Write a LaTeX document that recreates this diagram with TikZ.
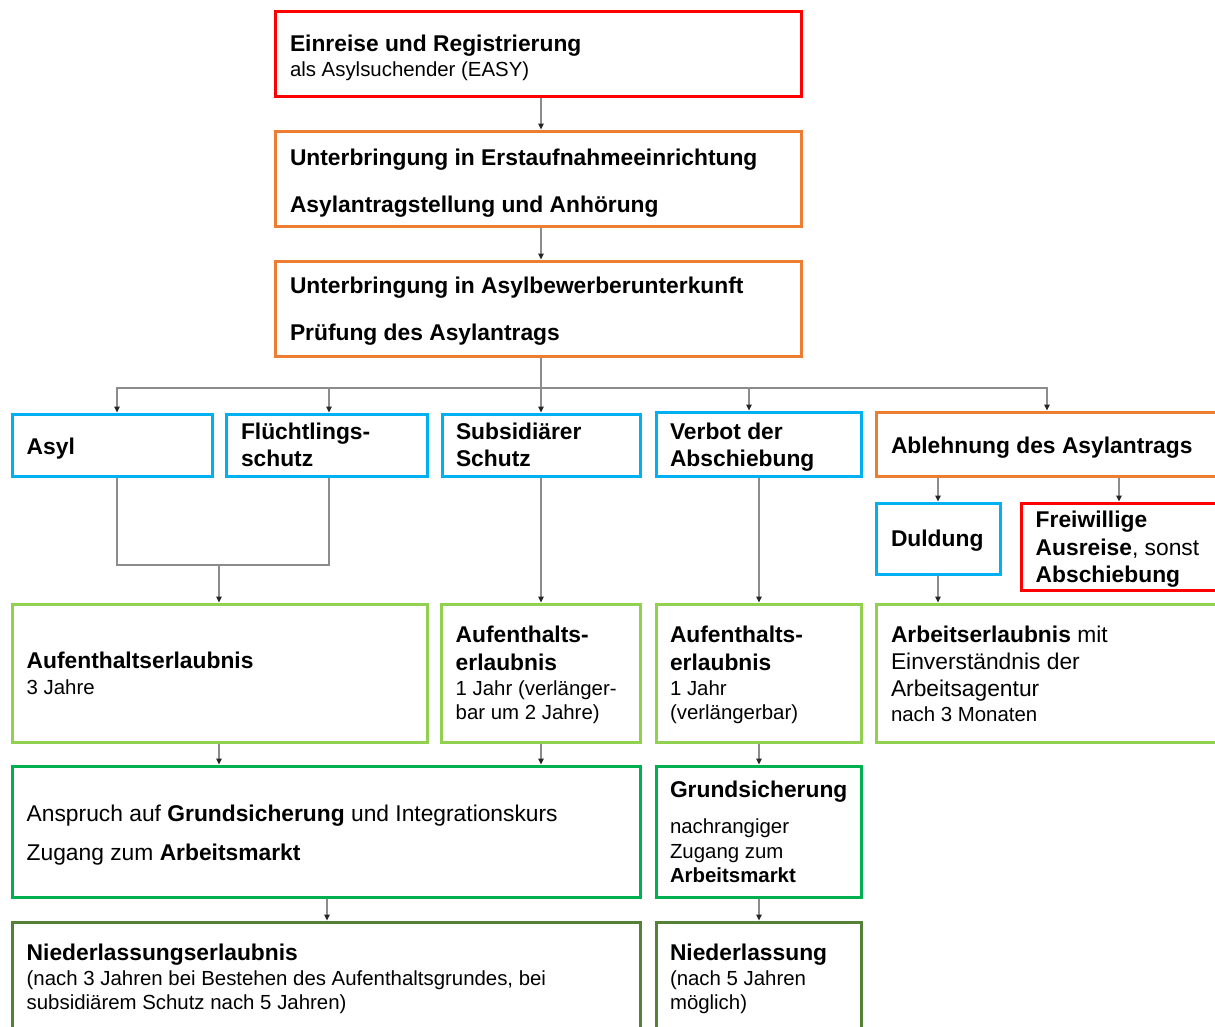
\documentclass[tikz,border=0pt]{standalone}
\usepackage{fontspec}
\setmainfont{Liberation Sans}
\usetikzlibrary{arrows.meta}
\definecolor{cRed}{HTML}{FF0000}
\definecolor{cOrange}{HTML}{ED7D31}
\definecolor{cBlue}{HTML}{00B0F0}
\definecolor{cLGreen}{HTML}{92D050}
\definecolor{cGreen}{HTML}{00B050}
\definecolor{cDGreen}{HTML}{538135}
\definecolor{cLine}{HTML}{8C8C8C}
\newcommand\myL{\fontsize{22.8pt}{27pt}\selectfont}
\newcommand\myS{\fontsize{20.4pt}{24pt}\selectfont}
\newcommand\mkbox[6]{\node[boxstyle, draw=#2, minimum width={(#5-#3)*1pt}, minimum height={(#6-#4)*1pt}] (#1) at ({(#3+#5)/2},{(#4+#6)/2}) {};}
\tikzset{
  boxstyle/.style={rectangle, line width=3pt, inner sep=0pt, fill=none},
  txt/.style={anchor=base west, inner sep=0pt, outer sep=0pt, text=black},
  lineconn/.style={draw=cLine, line width=1.1pt},
  conn/.style={lineconn, -{Triangle[length=6pt,width=5.5pt,color=black!85]}},
}
\begin{document}
\begin{tikzpicture}[x=1pt,y=-1pt]
\useasboundingbox (0,0) rectangle (1215,1026);
\clip (0,0) rectangle (1215,1026);
\fill[white] (0,0) rectangle (1215,1026);
% boxes
\mkbox{b1}{cRed}{275}{11}{801}{96}
\mkbox{b2}{cOrange}{275}{131}{801}{226}
\mkbox{b3}{cOrange}{275}{261}{801}{356}
\mkbox{asyl}{cBlue}{12}{414}{212}{476}
\mkbox{fl}{cBlue}{226}{414}{427}{476}
\mkbox{subs}{cBlue}{442}{414}{640}{476}
\mkbox{verbot}{cBlue}{656}{412}{861}{476}
\mkbox{abl}{cOrange}{876}{412}{1240}{476}
\mkbox{duld}{cBlue}{876}{503}{1000}{574}
\mkbox{freiw}{cRed}{1021}{503}{1240}{590}
\mkbox{ae1}{cLGreen}{12}{604}{427}{742}
\mkbox{ae2}{cLGreen}{441}{604}{640}{742}
\mkbox{ae3}{cLGreen}{656}{604}{861}{742}
\mkbox{arb}{cLGreen}{876}{604}{1240}{742}
\mkbox{anspr}{cGreen}{12}{766}{640}{897}
\mkbox{grund}{cGreen}{656}{766}{861}{897}
\mkbox{nied}{cDGreen}{12}{922}{640}{1060}
\mkbox{nied2}{cDGreen}{656}{922}{861}{1060}
% column coordinates
\coordinate (c117) at (117,0);
\coordinate (c219) at (219,0);
\coordinate (c327) at (327,0);
\coordinate (c329) at (329,0);
\coordinate (c541) at (541,0);
\coordinate (c749) at (749,0);
\coordinate (c759) at (759,0);
\coordinate (c938) at (938,0);
\coordinate (c1047) at (1047,0);
\coordinate (c1119) at (1119,0);
\coordinate (bus) at (541,388);
\coordinate (merge) at (219,565);
% connectors
\draw[conn] (b1.south -| c541) -- (b2.north -| c541);
\draw[conn] (b2.south -| c541) -- (b3.north -| c541);
\draw[lineconn] (b3.south -| c541) -- (bus);
\draw[conn] (bus) -| (asyl.north -| c117);
\draw[conn] (bus) -| (fl.north -| c329);
\draw[conn] (bus) -- (subs.north -| c541);
\draw[conn] (bus) -| (verbot.north -| c749);
\draw[conn] (bus) -| (abl.north -| c1047);
\draw[lineconn] (asyl.south -| c117) -- (c117 |- merge) -- (c329 |- merge) -- (fl.south -| c329);
\draw[conn] (merge) -- (ae1.north -| c219);
\draw[conn] (subs.south -| c541) -- (ae2.north -| c541);
\draw[conn] (verbot.south -| c759) -- (ae3.north -| c759);
\draw[conn] (abl.south -| c938) -- (duld.north -| c938);
\draw[conn] (abl.south -| c1119) -- (freiw.north -| c1119);
\draw[conn] (duld.south -| c938) -- (arb.north -| c938);
\draw[conn] (ae1.south -| c219) -- (anspr.north -| c219);
\draw[conn] (ae2.south -| c541) -- (anspr.north -| c541);
\draw[conn] (ae3.south -| c759) -- (grund.north -| c759);
\draw[conn] (anspr.south -| c327) -- (nied.north -| c327);
\draw[conn] (grund.south -| c759) -- (nied2.north -| c759);
% texts
\node[txt] (t1a) at (290,51) {\myL\bfseries Einreise und Registrierung};
\node[txt] (t1b) at (290,76.5) {\myS als Asylsuchender (EASY)};
\node[txt] (t2a) at (290,165.7) {\myL\bfseries Unterbringung in Erstaufnahmeeinrichtung};
\node[txt] (t2b) at (290,212) {\myL\bfseries Asylantragstellung und Anhörung};
\node[txt] (t3a) at (290,293) {\myL\bfseries Unterbringung in Asylbewerberunterkunft};
\node[txt] (t3b) at (290,340) {\myL\bfseries Prüfung des Asylantrags};
\node[txt] (tasyl) at (26.7,454) {\myL\bfseries Asyl};
\node[txt] (tfla) at (241,439.5) {\myL\bfseries Flüchtlings-};
\node[txt] (tflb) at (241,466.5) {\myL\bfseries schutz};
\node[txt] (tsua) at (456,439.5) {\myL\bfseries Subsidiärer};
\node[txt] (tsub) at (456,466.5) {\myL\bfseries Schutz};
\node[txt] (tvea) at (670,439.5) {\myL\bfseries Verbot der};
\node[txt] (tveb) at (670,466.5) {\myL\bfseries Abschiebung};
\node[txt] (tabl) at (891,453) {\myL\bfseries Ablehnung des Asylantrags};
\node[txt] (tdul) at (891,546.7) {\myL\bfseries Duldung};
\node[txt] (tfra) at (1035.7,527.7) {\myL\bfseries Freiwillige};
\node[txt] (tfrb) at (1035.7,555.2) {\myL\textbf{Ausreise}, sonst};
\node[txt] (tfrc) at (1035.7,582.7) {\myL\bfseries Abschiebung};
\node[txt] (ta1a) at (26.7,668) {\myL\bfseries Aufenthaltserlaubnis};
\node[txt] (ta1b) at (26.7,694) {\myS 3 Jahre};
\node[txt] (ta2a) at (455.7,642.7) {\myL\bfseries Aufenthalts-};
\node[txt] (ta2b) at (455.7,670) {\myL\bfseries erlaubnis};
\node[txt] (ta2c) at (455.7,695.7) {\myS 1 Jahr (verlänger-};
\node[txt] (ta2d) at (455.7,719.3) {\myS bar um 2 Jahre)};
\node[txt] (ta3a) at (670,642.7) {\myL\bfseries Aufenthalts-};
\node[txt] (ta3b) at (670,670) {\myL\bfseries erlaubnis};
\node[txt] (ta3c) at (670,695.7) {\myS 1 Jahr};
\node[txt] (ta3d) at (670,719.3) {\myS (verlängerbar)};
\node[txt] (tara) at (891,642.5) {\myL\textbf{Arbeitserlaubnis} mit};
\node[txt] (tarb) at (891,669.5) {\myL Einverständnis der};
\node[txt] (tarc) at (891,696.7) {\myL Arbeitsagentur};
\node[txt] (tard) at (891,721.7) {\myS nach 3 Monaten};
\node[txt] (tana) at (26.7,821) {\myL Anspruch auf \textbf{Grundsicherung} und Integrationskurs};
\node[txt] (tanb) at (26.7,860) {\myL Zugang zum \textbf{Arbeitsmarkt}};
\node[txt] (tgra) at (670,797.7) {\myL\bfseries Grundsicherung};
\node[txt] (tgrb) at (670,833.3) {\myS nachrangiger};
\node[txt] (tgrc) at (670,858.3) {\myS Zugang zum};
\node[txt] (tgrd) at (670,882.7) {\myS\bfseries Arbeitsmarkt};
\node[txt] (tnia) at (26.7,960) {\myL\bfseries Niederlassungserlaubnis};
\node[txt] (tnib) at (26.7,985.5) {\myS (nach 3 Jahren bei Bestehen des Aufenthaltsgrundes, bei};
\node[txt] (tnic) at (26.7,1009.5) {\myS subsidiärem Schutz nach 5 Jahren)};
\node[txt] (tn2a) at (670,960) {\myL\bfseries Niederlassung};
\node[txt] (tn2b) at (670,985.5) {\myS (nach 5 Jahren};
\node[txt] (tn2c) at (670,1009.5) {\myS möglich)};
\end{tikzpicture}
\end{document}
